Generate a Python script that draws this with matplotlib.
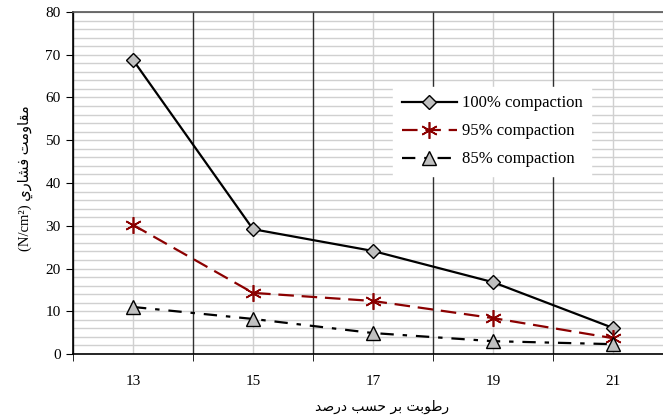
import numpy as np
import matplotlib
matplotlib.use("Agg")
import matplotlib.pyplot as plt
from matplotlib.ticker import MultipleLocator


# moisture categories (percent)
moisture = [13, 15, 17, 19, 21]

# compressive strength values (N/cm2)
comp_100 = [68.8, 29.2, 24.1, 16.8, 6.1]
comp_95 = [30.2, 14.3, 12.4, 8.4, 3.7]
comp_85 = [11.0, 8.2, 4.9, 3.0, 2.3]

labels = ["100% compaction", "95% compaction", "85% compaction"]

# Persian text, shaped by hand (presentation forms) and reversed for LTR drawing
xlabel_fa = "\uFEAD\uFEC3\uFEEE\uFE91\uFE96 \uFE91\uFEAE \uFEA3\uFEB4\uFE90 \uFEA9\uFEAD\uFEBB\uFEAA"
ylabel_fa = "\uFEE3\uFED8\uFE8E\uFEED\uFEE3\uFE96 \uFED3\uFEB8\uFE8E\uFEAD\uFEF1"

serif = ["Liberation Serif", "DejaVu Sans"]
plt.rcParams["font.family"] = serif

fig = plt.figure(figsize=(6.63, 4.18), dpi=100)
ax = fig.add_axes([73 / 663, 64 / 418, 600 / 663, 342 / 418])

ax.plot(moisture, comp_100, color="black", lw=1.6, marker="D", ms=7.5,
        mfc="#c0c0c0", mec="black", mew=1.0, label=labels[0], zorder=5)
ax.plot(moisture, comp_95, color="#8b0000", lw=1.6, ls=(0, (7, 3.5)),
        marker=(6, 2, 0), ms=12, mec="#8b0000", mew=1.2, label=labels[1], zorder=5)
ax.plot(moisture, comp_85, color="black", lw=1.6, ls=(0, (6, 4, 2, 4)),
        marker="^", ms=10, mfc="#c0c0c0", mec="black", mew=1.0,
        label=labels[2], zorder=5)

ax.set_xlim(12, 22)
ax.set_ylim(0, 80)

# category labels at centers, tick marks at category boundaries
ax.set_xticks(moisture)
ax.set_xticks(np.arange(12, 23, 2), minor=True)
ax.tick_params(axis="x", which="major", length=0, pad=15, labelsize=11)
ax.tick_params(axis="x", which="minor", length=5, direction="out", color="black")
ax.yaxis.set_major_locator(MultipleLocator(10))
ax.yaxis.set_minor_locator(MultipleLocator(2))
ax.tick_params(axis="y", which="major", length=5, direction="out", labelsize=11, pad=4)
ax.tick_params(axis="y", which="minor", length=0)

ax.grid(axis="y", which="both", color="#d0d0d0", lw=1.0)
ax.grid(axis="x", which="major", color="#d0d0d0", lw=1.0)
ax.grid(axis="x", which="minor", color="#303030", lw=1.0)
ax.set_axisbelow(True)
ax.xaxis.set_zorder(0.6)  # vertical lines over the horizontal grid

for s in ["left", "bottom"]:
    ax.spines[s].set_color("black")
    ax.spines[s].set_linewidth(1.2)
ax.spines["top"].set_color("#555555")
ax.spines["top"].set_linewidth(1.2)
ax.spines["right"].set_visible(False)

leg = ax.legend(loc="upper left", bbox_to_anchor=(0.52, 0.805), fontsize=12,
                handlelength=3.3, labelspacing=0.72, frameon=True,
                fancybox=False, borderpad=0.5, handletextpad=0.3)
leg.get_frame().set_edgecolor("white")
leg.get_frame().set_alpha(1.0)

fig.text(382 / 663, 1 - 407 / 418, xlabel_fa[::-1], ha="center", va="center",
         fontsize=10, family=["DejaVu Sans"])
fig.text(25 / 663, 1 - 178 / 418, "(N/cm\u00b2) " + ylabel_fa[::-1], ha="center",
         va="center", rotation=90, fontsize=10.5, family=serif)

fig.savefig("out.png", dpi=100)
